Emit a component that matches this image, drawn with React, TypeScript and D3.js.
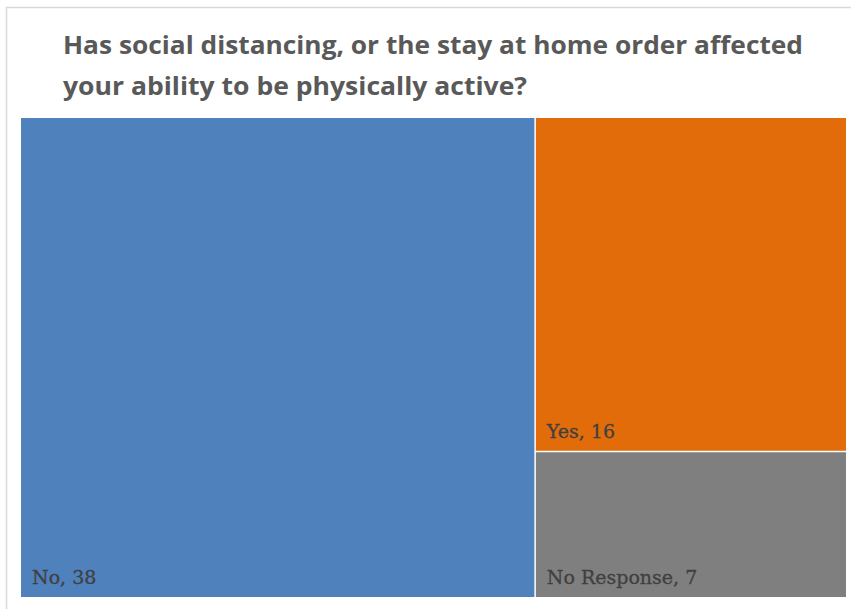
import React from "react";
import * as d3 from "d3";

const categories = ["No", "Yes", "No Response"];
const values = [38, 16, 7];
const colors = ["#4F81BD", "#E36C0A", "#7F7F7F"];
const titleLines = [
  "Has social distancing, or the stay at home order affected",
  "your ability to be physically active?",
];

const W = 851;
const H = 609;

export default function App() {
  const data = categories.map((c, i) => ({ name: c, value: values[i], color: colors[i] }));
  const root = d3
    .hierarchy({ name: "root", children: data } as any)
    .sum((d: any) => d.value || 0);
  d3.treemap().tile(d3.treemapBinary).size([825, 479]).paddingInner(1.5)(root as any);
  const leaves = root.leaves() as any[];

  return (
    <svg
      width={W}
      height={H}
      style={{ position: "absolute", left: 0, top: 0, background: "#fff" }}
    >
      <rect x={6.5} y={7.5} width={W + 10} height={H + 10} fill="#fff" stroke="#d9d9d9" strokeWidth={1.5} />
      {titleLines.map((t, i) => (
        <text
          key={i}
          x={63}
          y={54 + i * 41}
          fontFamily="'Open Sans', sans-serif"
          fontWeight={700}
          fontSize={25}
          fill="#595959"
          textLength={i === 0 ? 740 : 464}
          lengthAdjust="spacingAndGlyphs"
        >
          {t}
        </text>
      ))}
      <g transform="translate(21,118)">
        {leaves.map((l, i) => (
          <g key={i}>
            <rect x={l.x0} y={l.y0} width={l.x1 - l.x0} height={l.y1 - l.y0} fill={l.data.color} />
            <text
              x={l.x0 + 11}
              y={l.y1 - 13}
              fontFamily="'DejaVu Serif', serif"
              fontSize={19}
              fill="#404040"
              stroke="#404040"
              strokeWidth={0.3}
            >
              {`${l.data.name}, ${l.data.value}`}
            </text>
          </g>
        ))}
      </g>
    </svg>
  );
}
